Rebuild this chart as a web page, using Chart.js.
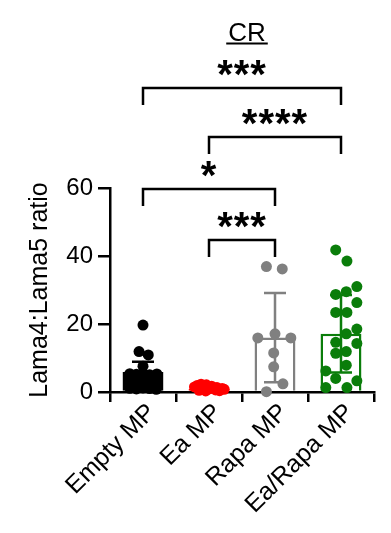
<!DOCTYPE html>
<html>
<head>
<meta charset="utf-8">
<script src="https://cdn.jsdelivr.net/npm/chart.js@4/dist/chart.umd.min.js"></script>
<style>
html,body{margin:0;padding:0;background:#fff;}
canvas{display:block;}
</style>
</head>
<body>
<canvas id="c" width="391" height="533"></canvas>
<script>
// ---- data ----
const categories = ['Empty MP', 'Ea MP', 'Rapa MP', 'Ea/Rapa MP'];
const yTicks = [0, 20, 40, 60];
const yTitle = 'Lama4:Lama5 ratio';
const chartTitle = 'CR';

const barMeans = [5.9, 0.9, 16.0, 17.1];
const barSD = [3.0, 0.5, 13.1, 11.4];

const emptyValues = [19.7, 11.9, 10.9, 7.6,
  5.4, 5.2, 5.5, 5.1, 5.3,
  4.0, 3.9, 4.1, 3.8, 4.0,
  2.6, 2.4, 2.7, 2.5, 2.3,
  1.1, 0.9, 1.2, 1.0, 0.8];
const emptyJitter = [0, -0.06, 0.08, 0.0,
  -0.2, -0.1, 0.0, 0.1, 0.21,
  -0.21, -0.1, 0.0, 0.1, 0.2,
  -0.2, -0.1, 0.0, 0.1, 0.21,
  -0.2, -0.1, 0.0, 0.1, 0.2];
const eaValues = [2.3, 2.1, 1.9, 1.7, 1.5, 1.3, 1.2, 1.0, 0.9, 0.8, 0.6, 0.5, 0.4, 0.3];
const eaJitter = [-0.12, -0.04, -0.18, 0.04, -0.22, 0.12, -0.08, 0.2, 0.0, 0.23, 0.1, -0.15, 0.16, -0.05];
const rapaValues = [36.9, 36.2, 15.9, 17.1, 15.9, 11.5, 7.4, 2.4, 0.1];
const rapaJitter = [-0.13, 0.11, -0.26, 0, 0.24, -0.02, -0.02, 0.12, -0.13];
const eaRapaValues = [41.8, 38.5, 28.7, 29.5, 31.0, 26.3, 23.4, 23.4, 18.5, 17.1, 14.6, 14.3, 11.9, 11.4, 7.9, 6.2, 4.0, 3.3, 1.3, 1.3];
const eaRapaJitter = [-0.08, 0.09, -0.08, 0.08, 0.24, 0.24, -0.08, 0.09, 0.24, 0.08, -0.08, 0.24, 0.08, -0.08, 0.08, -0.23, -0.08, 0.24, -0.23, 0.09];

// significance brackets
const bracketFrom = [0, 1, 0, 1];
const bracketTo = [3, 3, 2, 2];
const bracketY = [89.4, 75.0, 59.7, 44.7];
const bracketLabels = ['***', '****', '*', '***'];

// ---- styling ----
const groupColors = ['#000000', '#ff0000', '#808080', '#0a7d0a'];
const FONT = "Arial, 'Liberation Sans', Helvetica, sans-serif";

function pts(values, jitter, idx) {
  return values.map((v, k) => ({ x: idx + jitter[k], y: v }));
}

const overlay = {
  id: 'overlay',
  afterDatasetsDraw(chart) {
    const ctx = chart.ctx;
    const x = chart.scales.x, y = chart.scales.y;
    ctx.save();
    ctx.lineWidth = 2.5;
    ctx.lineCap = 'butt';
    categories.forEach((c, i) => {
      const px = x.getPixelForValue(i);
      const top = y.getPixelForValue(barMeans[i] + barSD[i]);
      const bot = y.getPixelForValue(Math.max(0, barMeans[i] - barSD[i]));
      ctx.strokeStyle = groupColors[i];
      ctx.beginPath();
      ctx.moveTo(px, top); ctx.lineTo(px, bot);
      ctx.moveTo(px - 11, top); ctx.lineTo(px + 11, top);
      ctx.moveTo(px - 11, bot); ctx.lineTo(px + 11, bot);
      ctx.stroke();
    });
    ctx.restore();
  },
  afterDraw(chart) {
    const ctx = chart.ctx;
    const x = chart.scales.x, y = chart.scales.y;
    ctx.save();
    ctx.strokeStyle = '#000';
    ctx.fillStyle = '#000';
    ctx.lineWidth = 2.5;
    ctx.lineCap = 'butt';
    ctx.lineJoin = 'miter';
    bracketFrom.forEach((f, k) => {
      const x1 = x.getPixelForValue(f);
      const x2 = x.getPixelForValue(bracketTo[k]);
      const yy = y.getPixelForValue(bracketY[k]);
      ctx.beginPath();
      ctx.moveTo(x1, yy + 17);
      ctx.lineTo(x1, yy);
      ctx.lineTo(x2, yy);
      ctx.lineTo(x2, yy + 17);
      ctx.stroke();
      ctx.font = 'bold 40px ' + FONT;
      ctx.textAlign = 'center';
      ctx.textBaseline = 'alphabetic';
      try { ctx.letterSpacing = '1px'; } catch (e) {}
      ctx.fillText(bracketLabels[k], (x1 + x2) / 2, yy);
      try { ctx.letterSpacing = '0px'; } catch (e) {}
    });
    ctx.font = '26px ' + FONT;
    ctx.textAlign = 'center';
    ctx.textBaseline = 'alphabetic';
    const tx = (chart.chartArea.left + chart.chartArea.right) / 2 + 5;
    ctx.fillText(chartTitle, tx, 41);
    const w = ctx.measureText(chartTitle).width;
    ctx.lineWidth = 2;
    ctx.beginPath();
    ctx.moveTo(tx - w / 2 - 2, 43.5);
    ctx.lineTo(tx + w / 2 + 2, 43.5);
    ctx.stroke();
    ctx.restore();
  }
};

new Chart(document.getElementById('c'), {
  type: 'bar',
  data: {
    labels: categories,
    datasets: [
      {
        type: 'bar',
        data: barMeans,
        backgroundColor: '#ffffff',
        borderColor: groupColors,
        borderWidth: 2.5,
        barPercentage: 0.62,
        categoryPercentage: 1,
        grouped: false,
        order: 2
      },
      { type: 'scatter', xAxisID: 'x2', data: pts(emptyValues, emptyJitter, 0), backgroundColor: groupColors[0], borderColor: groupColors[0], pointRadius: 5.5, borderWidth: 0, clip: false, order: 1 },
      { type: 'scatter', xAxisID: 'x2', data: pts(eaValues, eaJitter, 1), backgroundColor: groupColors[1], borderColor: groupColors[1], pointRadius: 5.5, borderWidth: 0, clip: false, order: 1 },
      { type: 'scatter', xAxisID: 'x2', data: pts(rapaValues, rapaJitter, 2), backgroundColor: groupColors[2], borderColor: groupColors[2], pointRadius: 5.5, borderWidth: 0, clip: false, order: 1 },
      { type: 'scatter', xAxisID: 'x2', data: pts(eaRapaValues, eaRapaJitter, 3), backgroundColor: groupColors[3], borderColor: groupColors[3], pointRadius: 5.5, borderWidth: 0, clip: false, order: 1 }
    ]
  },
  options: {
    responsive: false,
    animation: false,
    devicePixelRatio: 1,
    layout: { padding: { left: 0, top: 188, right: 17, bottom: 0 } },
    plugins: { legend: { display: false }, tooltip: { enabled: false }, title: { display: false } },
    scales: {
      x: {
        type: 'category',
        offset: true,
        afterFit(s) { s.height = 141; },
        grid: { display: true, drawOnChartArea: false, drawTicks: true, tickLength: 10, color: '#000', lineWidth: 2.5 },
        border: { display: true, color: '#000', width: 2.5 },
        ticks: { color: '#000', font: { family: FONT, size: 25 }, minRotation: 45, maxRotation: 45, autoSkip: false, padding: -4, labelOffset: 9 }
      },
      x2: {
        type: 'linear',
        display: false,
        offset: false,
        min: -0.5,
        max: 3.5
      },
      y: {
        type: 'linear',
        min: 0,
        max: 60,
        afterFit(s) { s.width = 110; },
        afterBuildTicks(s) { s.ticks = yTicks.map(v => ({ value: v })); },
        grid: { display: true, drawOnChartArea: false, drawTicks: true, tickLength: 12, color: '#000', lineWidth: 2.5 },
        border: { display: true, color: '#000', width: 2.5 },
        ticks: { color: '#000', font: { family: FONT, size: 24 }, padding: 5 },
        title: { display: true, text: yTitle, color: '#000', font: { family: FONT, size: 25 }, padding: { top: 25, bottom: 0 } }
      }
    }
  },
  plugins: [overlay]
});
</script>
</body>
</html>
